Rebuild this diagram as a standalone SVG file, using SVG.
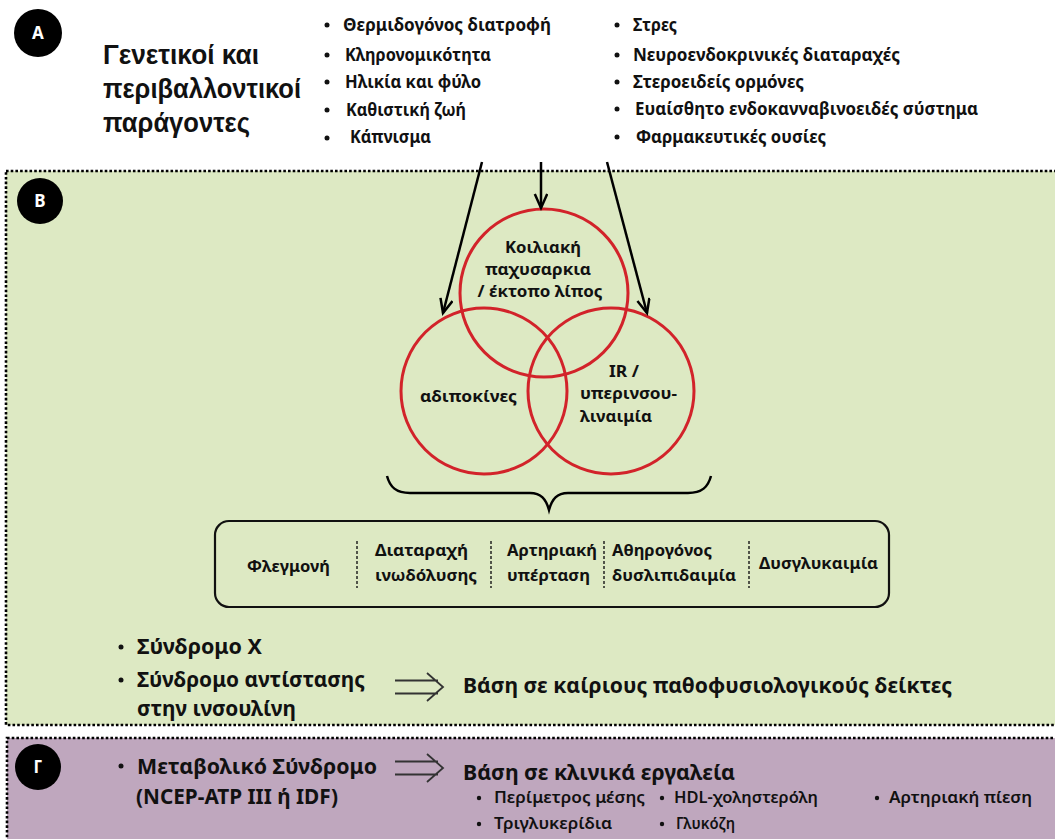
<svg xmlns="http://www.w3.org/2000/svg" width="1055" height="839" viewBox="0 0 1055 839">
  <defs>
    <style>
      text { font-family: "Noto Sans", "Open Sans", "DejaVu Sans", sans-serif; fill: #111; }
      .title { font-family: "Liberation Sans", "Noto Sans", sans-serif; font-size: 28px; font-weight: 700; }
      .li { font-size: 17px; font-weight: 700; }
      .ci { font-size: 16px; font-weight: 700; }
      .bx { font-size: 16px; font-weight: 700; }
      .big { font-size: 22px; font-weight: 700; }
      .sm { font-size: 16px; font-weight: 600; }
      .badge { fill: #000; }
      .badge-t { font-size: 17px; font-weight: 700; fill: #fff; text-anchor: middle; }
      .dot { fill: #111; }
      .frame { stroke: #000; stroke-width: 2.6; stroke-dasharray: 2.6 2.1; }
      .venn { fill: none; stroke: #d2232a; stroke-width: 3; }
      .conn { stroke: #000; stroke-width: 2.5; fill: none; }
      .dbl { stroke: #333; stroke-width: 1.8; fill: none; }
      .sep { stroke: #222; stroke-width: 1.5; stroke-dasharray: 3 2; }
    </style>
    <marker id="head" markerUnits="userSpaceOnUse" markerWidth="20" markerHeight="18" refX="15" refY="7" orient="auto">
      <path d="M1,0.8 L15,7 L1,13.2" fill="none" stroke="#000" stroke-width="2.5" stroke-linejoin="miter"/>
    </marker>
  </defs>

  <rect width="1055" height="839" fill="#fff"/>

  <!-- Section panels -->
  <rect id="panel-b" class="frame" x="6" y="171" width="1060" height="554" fill="#dde9c3"/>
  <rect id="panel-c" class="frame" x="7" y="738" width="1060" height="120" fill="#bfa7be"/>

  <!-- Section A: risk factors -->
  <g id="badge-a">
    <circle class="badge" cx="38" cy="33" r="24"/>
    <text class="badge-t" x="38" y="39">Α</text>
  </g>
  <g id="factors-title">
    <text class="title" x="103" y="64" textLength="156" lengthAdjust="spacingAndGlyphs">Γενετικοί και</text>
    <text class="title" x="103" y="98" textLength="198" lengthAdjust="spacingAndGlyphs">περιβαλλοντικοί</text>
    <text class="title" x="103" y="132" textLength="147" lengthAdjust="spacingAndGlyphs">παράγοντες</text>
  </g>
  <g id="factors-list-1">
    <circle class="dot" cx="327" cy="25" r="2.5"/>
    <text class="li" x="343" y="31" textLength="208" lengthAdjust="spacingAndGlyphs">Θερμιδογόνος διατροφή</text>
    <circle class="dot" cx="327" cy="55" r="2.5"/>
    <text class="li" x="345" y="61" textLength="146" lengthAdjust="spacingAndGlyphs">Κληρονομικότητα</text>
    <circle class="dot" cx="327" cy="82" r="2.5"/>
    <text class="li" x="345" y="88" textLength="136" lengthAdjust="spacingAndGlyphs">Ηλικία και φύλο</text>
    <circle class="dot" cx="327" cy="110" r="2.5"/>
    <text class="li" x="346" y="116" textLength="120" lengthAdjust="spacingAndGlyphs">Καθιστική ζωή</text>
    <circle class="dot" cx="327" cy="138" r="2.5"/>
    <text class="li" x="350" y="143" textLength="81" lengthAdjust="spacingAndGlyphs">Κάπνισμα</text>
  </g>
  <g id="factors-list-2">
    <circle class="dot" cx="617" cy="25" r="2.5"/>
    <text class="li" x="633" y="31" textLength="44" lengthAdjust="spacingAndGlyphs">Στρες</text>
    <circle class="dot" cx="617" cy="55" r="2.5"/>
    <text class="li" x="633" y="61" textLength="267" lengthAdjust="spacingAndGlyphs">Νευροενδοκρινικές διαταραχές</text>
    <circle class="dot" cx="617" cy="82" r="2.5"/>
    <text class="li" x="633" y="88" textLength="171" lengthAdjust="spacingAndGlyphs">Στεροειδείς ορμόνες</text>
    <circle class="dot" cx="617" cy="109" r="2.5"/>
    <text class="li" x="635" y="115" textLength="343" lengthAdjust="spacingAndGlyphs">Ευαίσθητο ενδοκανναβινοειδές σύστημα</text>
    <circle class="dot" cx="617" cy="137" r="2.5"/>
    <text class="li" x="636" y="143" textLength="190" lengthAdjust="spacingAndGlyphs">Φαρμακευτικές ουσίες</text>
  </g>

  <!-- Section B -->
  <g id="badge-b">
    <circle class="badge" cx="40" cy="201" r="23"/>
    <text class="badge-t" x="40" y="207">Β</text>
  </g>

  <g id="venn-top">
    <circle class="venn" cx="544" cy="293" r="84"/>
    <text class="ci" x="543" y="253" text-anchor="middle" textLength="76" lengthAdjust="spacingAndGlyphs">Κοιλιακή</text>
    <text class="ci" x="538" y="275" text-anchor="middle" textLength="106" lengthAdjust="spacingAndGlyphs">παχυσαρκια</text>
    <text class="ci" x="540" y="297" text-anchor="middle" textLength="125" lengthAdjust="spacingAndGlyphs">/ έκτοπο λίπος</text>
  </g>
  <g id="venn-left">
    <circle class="venn" cx="484" cy="391" r="83"/>
    <text class="ci" x="420" y="402" textLength="97" lengthAdjust="spacingAndGlyphs">αδιποκίνες</text>
  </g>
  <g id="venn-right">
    <circle class="venn" cx="611" cy="391" r="83"/>
    <text class="ci" x="609" y="377" textLength="30" lengthAdjust="spacingAndGlyphs">IR /</text>
    <text class="ci" x="580" y="399" textLength="97" lengthAdjust="spacingAndGlyphs">υπερινσου-</text>
    <text class="ci" x="580" y="422" textLength="72" lengthAdjust="spacingAndGlyphs">λιναιμία</text>
  </g>

  <g id="brace">
    <path class="conn" d="M387,476 C390,487 396,493 410,493 L530,493 C541,493 546,499 549,510 C552,499 557,493 568,493 L688,493 C702,493 708,487 711,476"/>
  </g>

  <g id="components">
    <rect x="215" y="521" width="674" height="86" rx="14" ry="14" fill="none" stroke="#111" stroke-width="2.2"/>
    <line class="sep" x1="357" y1="541" x2="357" y2="588"/>
    <line class="sep" x1="491" y1="541" x2="491" y2="588"/>
    <line class="sep" x1="604" y1="541" x2="604" y2="588"/>
    <line class="sep" x1="749" y1="541" x2="749" y2="588"/>
    <text class="bx" x="247" y="572" textLength="83" lengthAdjust="spacingAndGlyphs">Φλεγμονή</text>
    <text class="bx" x="375" y="556" textLength="93" lengthAdjust="spacingAndGlyphs">Διαταραχή</text>
    <text class="bx" x="375" y="581" textLength="102" lengthAdjust="spacingAndGlyphs">ινωδόλυσης</text>
    <text class="bx" x="507" y="556" textLength="90" lengthAdjust="spacingAndGlyphs">Αρτηριακή</text>
    <text class="bx" x="507" y="581" textLength="83" lengthAdjust="spacingAndGlyphs">υπέρταση</text>
    <text class="bx" x="612" y="556" textLength="100" lengthAdjust="spacingAndGlyphs">Αθηρογόνος</text>
    <text class="bx" x="612" y="581" textLength="124" lengthAdjust="spacingAndGlyphs">δυσλιπιδαιμία</text>
    <text class="bx" x="759" y="569" textLength="119" lengthAdjust="spacingAndGlyphs">Δυσγλυκαιμία</text>
  </g>

  <g id="syndromes">
    <circle class="dot" cx="121" cy="647" r="2.5"/>
    <text class="big" x="137" y="654" textLength="125" lengthAdjust="spacingAndGlyphs">Σύνδρομο Χ</text>
    <circle class="dot" cx="121" cy="680" r="2.5"/>
    <text class="big" x="137" y="687" textLength="228" lengthAdjust="spacingAndGlyphs">Σύνδρομο αντίστασης</text>
    <text class="big" x="137" y="716" textLength="159" lengthAdjust="spacingAndGlyphs">στην ινσουλίνη</text>
  </g>
  <g id="pathophysiology">
    <text class="big" x="463" y="693" textLength="489" lengthAdjust="spacingAndGlyphs">Βάση σε καίριους παθοφυσιολογικούς δείκτες</text>
  </g>

  <!-- Section Γ -->
  <g id="badge-c">
    <circle class="badge" cx="38" cy="767" r="23"/>
    <text class="badge-t" x="38" y="773">Γ</text>
  </g>
  <g id="metabolic">
    <circle class="dot" cx="121" cy="766" r="2.5"/>
    <text class="big" x="137" y="774" textLength="240" lengthAdjust="spacingAndGlyphs">Μεταβολικό Σύνδρομο</text>
    <text class="big" x="136" y="804" textLength="202" lengthAdjust="spacingAndGlyphs">(NCEP-ATP III ή IDF)</text>
  </g>
  <g id="clinical-tools">
    <text class="big" x="463" y="780" textLength="272" lengthAdjust="spacingAndGlyphs">Βάση σε κλινικά εργαλεία</text>
    <circle class="dot" cx="479" cy="798" r="2.2"/>
    <text class="sm" x="494" y="803" textLength="151" lengthAdjust="spacingAndGlyphs">Περίμετρος μέσης</text>
    <circle class="dot" cx="662" cy="798" r="2.2"/>
    <text class="sm" x="674" y="803" textLength="144" lengthAdjust="spacingAndGlyphs">HDL-χοληστερόλη</text>
    <circle class="dot" cx="877" cy="798" r="2.2"/>
    <text class="sm" x="889" y="803" textLength="143" lengthAdjust="spacingAndGlyphs">Αρτηριακή πίεση</text>
    <circle class="dot" cx="479" cy="824" r="2.2"/>
    <text class="sm" x="494" y="829" textLength="118" lengthAdjust="spacingAndGlyphs">Τριγλυκερίδια</text>
    <circle class="dot" cx="662" cy="824" r="2.2"/>
    <text class="sm" x="676" y="829" textLength="59" lengthAdjust="spacingAndGlyphs">Γλυκόζη</text>
  </g>

  <!-- Connectors -->
  <g id="connectors">
    <line class="conn" x1="482" y1="162" x2="443" y2="313" marker-end="url(#head)"/>
    <line class="conn" x1="541" y1="162" x2="541" y2="208" marker-end="url(#head)"/>
    <line class="conn" x1="607" y1="162" x2="647" y2="313" marker-end="url(#head)"/>
    <!-- implication arrows -->
    <path class="dbl" d="M395,680.5 L438,680.5 M395,693.5 L438,693.5 M427,673 L443,687 L427,701"/>
    <path class="dbl" d="M395,761.5 L438,761.5 M395,774.5 L438,774.5 M427,754 L443,768 L427,782"/>
  </g>
</svg>
